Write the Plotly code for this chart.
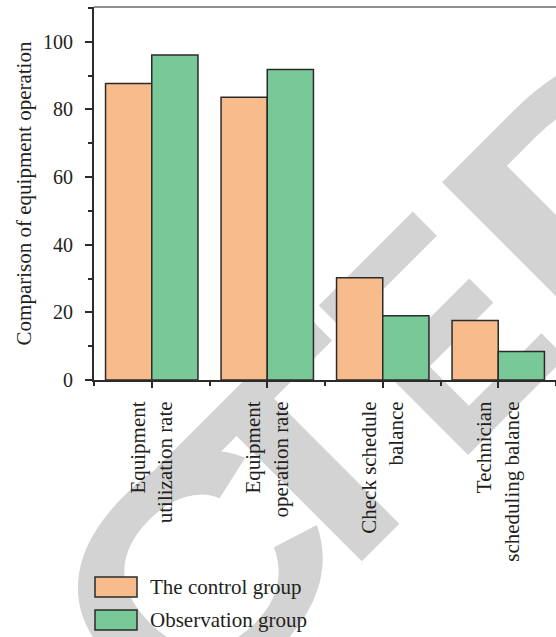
import base64
import plotly.graph_objects as go

# Data
categories = [
    "Equipment<br>utilization rate",
    "Equipment<br>operation rate",
    "Check schedule<br>balance",
    "Technician<br>scheduling balance",
]
control_group = [87.7, 83.6, 30.2, 17.6]
observation_group = [96.1, 91.8, 19.0, 8.4]
series_names = ["The control group", "Observation group"]
y_ticks = [0, 20, 40, 60, 80, 100]

# Styling
W, H = 556, 637
M_L, M_R, M_T, M_B = 94, 0, 7, 257
PLOT_W, PLOT_H = W - M_L - M_R, H - M_T - M_B
FONT = "Liberation Serif"
TEXT_COLOR = "#231f20"
EDGE = "#2b2b2b"
ORANGE = "#f8bc8c"
GREEN = "#79c898"

positions = list(range(len(categories)))

fig = go.Figure()
for name, vals, color in [
    (series_names[0], control_group, ORANGE),
    (series_names[1], observation_group, GREEN),
]:
    fig.add_trace(go.Bar(
        x=positions, y=vals, name=name,
        marker=dict(color=color, line=dict(color=EDGE, width=1.5)),
        showlegend=False,
    ))


def px_to_paper(px, py):
    return (px - M_L) / PLOT_W, (H - M_B - py) / PLOT_H


# Legend drawn as swatches + labels below the axis
shapes = []
annotations = []
for i, (name, color) in enumerate(zip(series_names, [ORANGE, GREEN])):
    top = 577 + i * 33
    x0, y0 = px_to_paper(95, top)
    x1, y1 = px_to_paper(137, top + 20)
    shapes.append(dict(type="rect", xref="paper", yref="paper",
                       x0=x0, x1=x1, y0=y1, y1=y0,
                       fillcolor=color, line=dict(color=EDGE, width=1.5)))
    tx, ty = px_to_paper(148, top + 10)
    annotations.append(dict(xref="paper", yref="paper", x=tx, y=ty,
                            xanchor="left", yanchor="middle", showarrow=False,
                            text=name, font=dict(family=FONT, size=21, color=TEXT_COLOR)))

# Top frame line
shapes.append(dict(type="line", xref="paper", yref="paper", x0=0, x1=1, y0=1, y1=1,
                   line=dict(color="#6a6a6a", width=1.5)))

# Diagonal "RETRACTED" stamp behind the chart, set letter by letter along a
# 45-degree baseline (x + y = const) so each glyph can be widened or narrowed.
STAMP_BASE = 923          # x + y of the baseline
STAMP_SIZE = 307
stamp_letters = [          # (glyph, x - y of glyph origin, horizontal scale)
    ("R", -2060, 1.2), ("E", -1750, 1.0), ("T", -1460, 1.2), ("R", -1195, 1.2),
    ("A", -880, 1.2), ("C", -570, 1.2), ("T", -321, 1.2), ("E", -10, 0.8),
    ("D", 222, 1.3),
]
glyphs = []
for ch, d, sx in stamp_letters:
    gx, gy = (STAMP_BASE + d) / 2, (STAMP_BASE - d) / 2
    glyphs.append(
        f'<text x="0" y="0" transform="translate({gx:.1f},{gy:.1f}) rotate(-45) scale({sx},1)">{ch}</text>'
    )
svg = (
    f'<svg xmlns="http://www.w3.org/2000/svg" width="{W}" height="{H}" viewBox="0 0 {W} {H}">'
    f'<g font-family="Liberation Sans" font-weight="bold" font-size="{STAMP_SIZE}" fill="#d3d3d3">'
    + "".join(glyphs) + "</g></svg>"
)
svg_uri = "data:image/svg+xml;base64," + base64.b64encode(svg.encode()).decode()
img_x, img_y = px_to_paper(0, 0)

fig.update_layout(
    width=W, height=H,
    margin=dict(l=M_L, r=M_R, t=M_T, b=M_B, pad=0),
    paper_bgcolor="white",
    plot_bgcolor="rgba(0,0,0,0)",
    barmode="group", bargap=0.2, bargroupgap=0,
    font=dict(family=FONT, size=21, color=TEXT_COLOR),
    shapes=shapes,
    annotations=annotations,
    images=[dict(source=svg_uri, xref="paper", yref="paper",
                 x=img_x, y=img_y, sizex=W / PLOT_W, sizey=H / PLOT_H,
                 xanchor="left", yanchor="top", sizing="stretch", layer="below")],
)

fig.update_xaxes(
    range=[-0.5, 3.5], tickvals=positions, ticktext=categories, tickangle=-90,
    showline=True, linecolor=EDGE, linewidth=2, showgrid=False, zeroline=False,
    ticks="outside", ticklen=6, tickwidth=1.5, tickcolor=EDGE,
    minor=dict(tickvals=[p - 0.5 for p in positions] + [positions[-1] + 0.5],
               ticks="outside", ticklen=4, tickwidth=1.5, tickcolor=EDGE, showgrid=False),
    tickfont=dict(family=FONT, size=21, color=TEXT_COLOR),
    ticklabelstandoff=5,
)
fig.update_yaxes(
    range=[0, 110.3], tickvals=y_ticks,
    showline=True, linecolor=EDGE, linewidth=2, showgrid=False, zeroline=False,
    ticks="outside", ticklen=7, tickwidth=1.5, tickcolor=EDGE,
    minor=dict(dtick=10, tick0=0, ticks="outside", ticklen=4, tickwidth=1.5,
               tickcolor=EDGE, showgrid=False),
    tickfont=dict(family=FONT, size=20, color=TEXT_COLOR),
    ticklabelstandoff=8,
    title=dict(text="Comparison of equipment operation",
               font=dict(family=FONT, size=21, color=TEXT_COLOR), standoff=6),
)

fig.write_html("out.html")
